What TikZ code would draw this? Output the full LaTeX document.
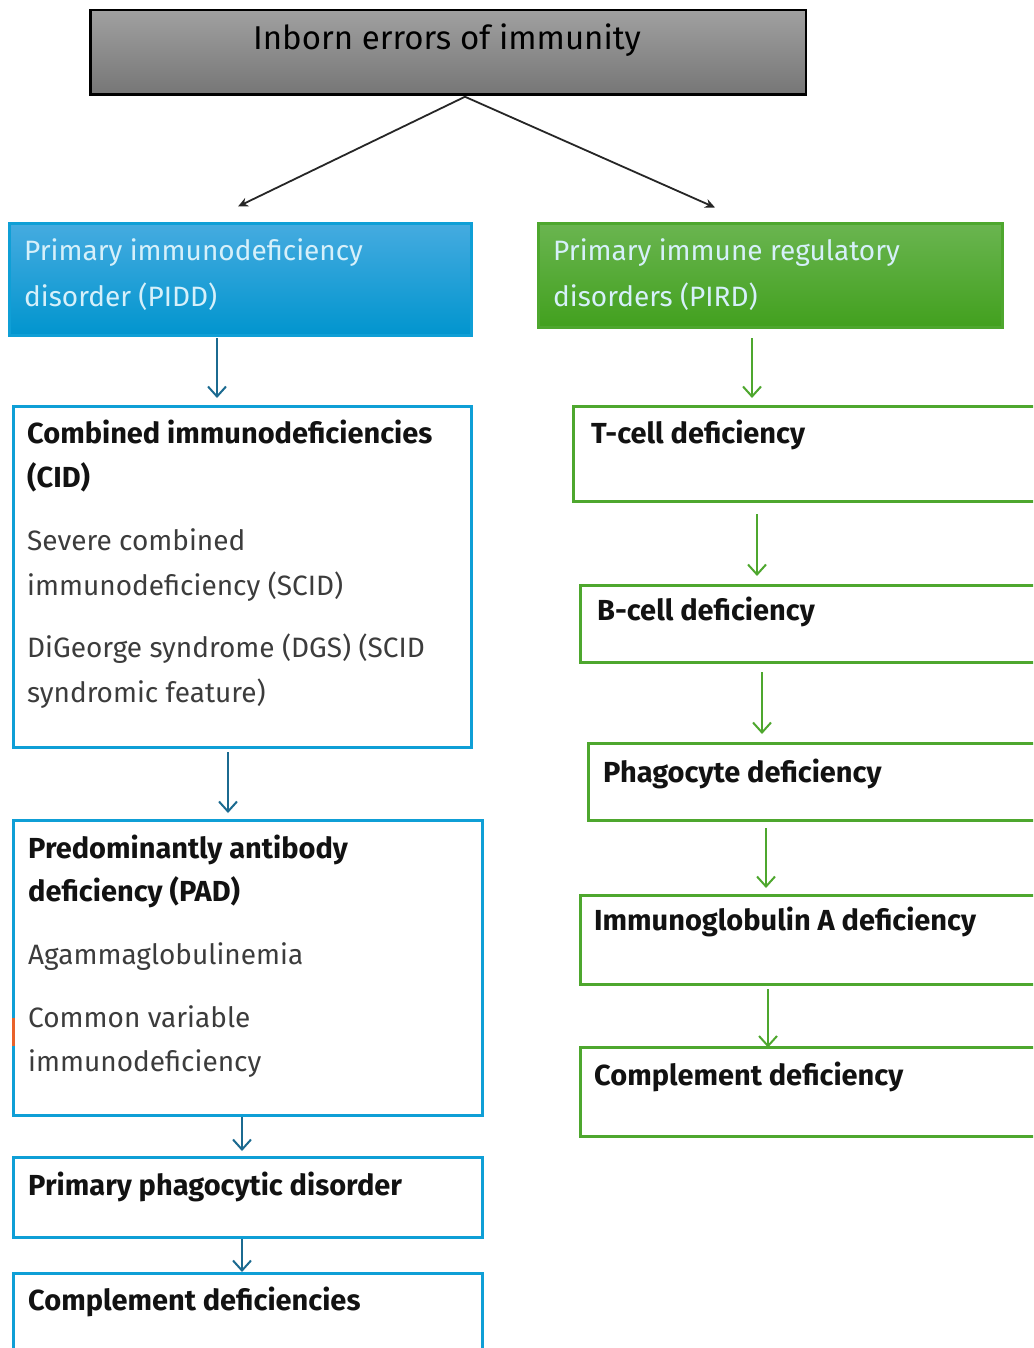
\documentclass[tikz,border=0pt]{standalone}
\usepackage{fontspec}
\setmainfont{Fira Sans}
\usetikzlibrary{arrows.meta}
\definecolor{bluebd}{HTML}{0F9FD6}
\definecolor{bluetop}{HTML}{45ABE0}
\definecolor{bluebot}{HTML}{0195CE}
\definecolor{greenbd}{HTML}{4EA72E}
\definecolor{greentop}{HTML}{6AB550}
\definecolor{greenbot}{HTML}{42A01E}
\definecolor{bluearr}{HTML}{1B6A90}
\definecolor{greenarr}{HTML}{4EA72E}
\definecolor{graytop}{HTML}{A0A0A0}
\definecolor{graybot}{HTML}{767676}
\definecolor{bodytxt}{HTML}{3C3C3C}
\definecolor{paletxt}{HTML}{D6F0FA}
\definecolor{orangemk}{HTML}{E8622A}
\newcommand\bx[6]{\node[#6, anchor=north west, minimum width={#4-#2}, minimum height={#5-#3}] (#1) at (#2,#3) {};}
\begin{document}
\begin{tikzpicture}[x=1pt,y=-1pt,
  boxbase/.style={rectangle, inner sep=0pt, outer sep=0pt},
  titlebox/.style={boxbase, draw=black, line width=2.5pt, top color=graytop, bottom color=graybot},
  pidbox/.style={boxbase, draw=bluebd, line width=3pt, top color=bluetop, bottom color=bluebot},
  pirbox/.style={boxbase, draw=greenbd, line width=3pt, top color=greentop, bottom color=greenbot},
  bbox/.style={boxbase, draw=bluebd, line width=2.8pt, fill=white},
  gbox/.style={boxbase, draw=greenbd, line width=2.8pt, fill=white},
  txt/.style={anchor=base west, inner sep=0pt, font=\fontsize{28}{34}\selectfont, text=bodytxt},
  hd/.style={anchor=base west, inner sep=0pt, font=\fontsize{29}{35}\selectfont\bfseries, text=black!93},
  pale/.style={anchor=base west, inner sep=0pt, font=\fontsize{28}{34}\selectfont, text=paletxt},
  blkarr/.style={draw=black!85, line width=1.8pt, -{Stealth[length=10pt,width=9pt]}},
  barr/.style={draw=bluearr, line width=2.2pt, -{Straight Barb[length=10pt,width=18pt,line width=2pt]}},
  garr/.style={draw=greenarr, line width=2.2pt, -{Straight Barb[length=10pt,width=18pt,line width=2pt]}}
]
\useasboundingbox (0,0) rectangle (1033,1348);
\fill[white] (0,0) rectangle (1033,1348);
\clip (0,0) rectangle (1033,1348);

% boxes
\bx{title}{90.25}{10.25}{805.75}{94.75}{titlebox}
\bx{pidd}{9.5}{223.5}{471.5}{335.5}{pidbox}
\bx{pird}{538.5}{223.5}{1002.5}{327.5}{pirbox}
\bx{cid}{13.5}{406.5}{471.5}{747.5}{bbox}
\bx{pad}{13.5}{820.5}{482.5}{1115.5}{bbox}
\bx{ppd}{13.5}{1157.5}{482.5}{1237.5}{bbox}
\bx{cdl}{13.5}{1273.5}{482.5}{1370}{bbox}
\bx{tcell}{573.5}{406.5}{1050}{501.5}{gbox}
\bx{bcell}{580.5}{585.5}{1050}{662.5}{gbox}
\bx{phago}{588.5}{743.5}{1050}{820.5}{gbox}
\bx{iga}{580.5}{895.5}{1050}{984.5}{gbox}
\bx{compr}{580.5}{1047.5}{1050}{1136.5}{gbox}

% orange mark
\draw[orangemk, line width=2.5pt] ([yshift=-197pt]pad.north west) -- ([yshift=-225pt]pad.north west);

% texts
\node[anchor=base, inner sep=0pt, font=\fontsize{33}{38}\selectfont, text=black] (ttl) at (447,50) {Inborn errors of immunity};

\node[pale] (pidd1) at (24,261) {Primary immunodeficiency};
\node[pale] (pidd2) at (24,306) {disorder (PIDD)};
\node[pale] (pird1) at (553,261) {Primary immune regulatory};
\node[pale] (pird2) at (553,306) {disorders (PIRD)};

\node[hd] (cid1) at (27,443) {Combined immunodeficiencies};
\node[hd] (cid2) at (27,487) {(CID)};
\node[txt] (cid3) at (27,550) {Severe combined};
\node[txt] (cid4) at (27,595) {immunodeficiency (SCID)};
\node[txt] (cid5) at (27,657) {DiGeorge syndrome (DGS) (SCID};
\node[txt] (cid6) at (27,702) {syndromic feature)};

\node[hd] (pad1) at (28,858) {Predominantly antibody};
\node[hd] (pad2) at (28,901) {deficiency (PAD)};
\node[txt] (pad3) at (28,964) {Agammaglobulinemia};
\node[txt] (pad4) at (28,1027) {Common variable};
\node[txt] (pad5) at (28,1071) {immunodeficiency};

\node[hd] (ppd1) at (28,1195) {Primary phagocytic disorder};
\node[hd] (cdl1) at (28,1310) {Complement deficiencies};

\node[hd] (t1) at (591,443) {T-cell deficiency};
\node[hd] (b1) at (597,620) {B-cell deficiency};
\node[hd] (ph1) at (603,782) {Phagocyte deficiency};
\node[hd] (iga1) at (594,930) {Immunoglobulin A deficiency};
\node[hd] (co1) at (594,1085) {Complement deficiency};

% connectors
\draw[blkarr] ([xshift=17pt,yshift=-2pt]title.south) -- ([xshift=-2.5pt,yshift=17pt]pidd.north);
\draw[blkarr] ([xshift=17pt,yshift=-2pt]title.south) -- ([xshift=-55.5pt,yshift=16pt]pird.north);

\draw[barr] ([xshift=-23.5pt,yshift=-2.5pt]pidd.south) -- ([xshift=-25.5pt,yshift=8.5pt]cid.north);
\draw[barr] ([xshift=-14.5pt,yshift=-4.5pt]cid.south) -- ([xshift=-20pt,yshift=7.5pt]pad.north);
\draw[barr] ([xshift=-6pt,yshift=-1.5pt]pad.south) -- ([xshift=-6pt,yshift=6.5pt]ppd.north);
\draw[barr] ([xshift=-6pt,yshift=-1.5pt]ppd.south) -- ([xshift=-6pt,yshift=1.5pt]cdl.north);

\draw[garr] ([xshift=-18.5pt,yshift=-10.5pt]pird.south) -- ([xshift=-59.75pt,yshift=8.5pt]tcell.north);
\draw[garr] ([xshift=-54.75pt,yshift=-12.5pt]tcell.south) -- ([xshift=-58.25pt,yshift=9.5pt]bcell.north);
\draw[garr] ([xshift=-53.25pt,yshift=-9.5pt]bcell.south) -- ([xshift=-57.25pt,yshift=9.5pt]phago.north);
\draw[garr] ([xshift=-53.25pt,yshift=-7.5pt]phago.south) -- ([xshift=-49.25pt,yshift=7.5pt]iga.north);
\draw[garr] ([xshift=-47.25pt,yshift=-4.5pt]iga.south) -- ([xshift=-47.25pt,yshift=0pt]compr.north);
\end{tikzpicture}
\end{document}
